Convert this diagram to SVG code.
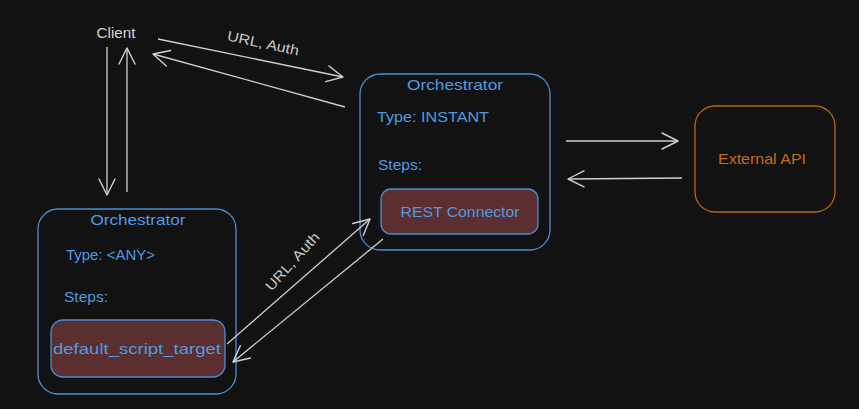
<svg xmlns="http://www.w3.org/2000/svg" width="859" height="409" viewBox="0 0 859 409">
<defs>
<marker id="ah" viewBox="0 0 20 20" refX="18" refY="10" markerWidth="20" markerHeight="20" markerUnits="userSpaceOnUse" orient="auto">
<path d="M2,2 L18,10 L2,18" fill="none" stroke="#d0d0d0" stroke-width="1.4" stroke-linecap="round" stroke-linejoin="round"/>
</marker>
<style>
.bg{fill:#121212}
.box{fill:none;stroke:#4a8fd0;stroke-width:1.3}
.step{fill:#5b2e2f;stroke:#4a8fd0;stroke-width:1.3}
.ext{fill:none;stroke:#b8660c;stroke-width:1.3}
.t{font-family:"Liberation Sans",Arial,sans-serif;font-size:15px;fill:#4f9be0}
.c{text-anchor:middle}
.w{fill:#d4d4d4}
.o{fill:#c46c10}
.ar{fill:none;stroke:#cfcfcf;stroke-width:1.3;marker-end:url(#ah)}
.al{font-family:"Liberation Sans",Arial,sans-serif;font-size:14px;fill:#c8c8c8;text-anchor:middle}
</style>
</defs>
<rect class="bg" x="0" y="0" width="859" height="409"/>

<g id="client">
<text class="t w c" x="116" y="38" textLength="39" lengthAdjust="spacingAndGlyphs">Client</text>
</g>

<g id="orch-instant">
<rect class="box" x="360" y="74" width="190" height="176" rx="20"/>
<text class="t c" x="455" y="90" textLength="96" lengthAdjust="spacingAndGlyphs">Orchestrator</text>
<text class="t" x="377" y="122" textLength="112" lengthAdjust="spacingAndGlyphs">Type: INSTANT</text>
<text class="t" x="378" y="170" textLength="44" lengthAdjust="spacingAndGlyphs">Steps:</text>
<g id="rest-connector">
<rect class="step" x="381" y="189" width="157" height="45" rx="10"/>
<text class="t c" x="460" y="217" textLength="119" lengthAdjust="spacingAndGlyphs">REST Connector</text>
</g>
</g>

<g id="external-api">
<rect class="ext" x="695" y="106" width="140" height="106" rx="20"/>
<text class="t o c" x="762" y="164" textLength="88" lengthAdjust="spacingAndGlyphs">External API</text>
</g>

<g id="orch-any">
<rect class="box" x="38" y="209" width="198" height="185" rx="20"/>
<text class="t c" x="138" y="225" textLength="95" lengthAdjust="spacingAndGlyphs">Orchestrator</text>
<text class="t" x="66" y="260" textLength="89" lengthAdjust="spacingAndGlyphs">Type: &lt;ANY&gt;</text>
<text class="t" x="64" y="302" textLength="44" lengthAdjust="spacingAndGlyphs">Steps:</text>
<g id="default-script-target">
<rect class="step" x="51" y="320" width="174" height="57" rx="12"/>
<text class="t c" x="137" y="354" textLength="168" lengthAdjust="spacingAndGlyphs">default_script_target</text>
</g>
</g>

<g id="connectors">
<line class="ar" x1="107" y1="47" x2="107" y2="195"/>
<line class="ar" x1="127" y1="192" x2="127" y2="48"/>
<line class="ar" x1="158" y1="39" x2="343" y2="77"/>
<line class="ar" x1="345" y1="107" x2="153" y2="54"/>
<line class="ar" x1="566" y1="141" x2="678" y2="141"/>
<line class="ar" x1="682" y1="178" x2="568" y2="179"/>
<line class="ar" x1="227" y1="344" x2="370" y2="219"/>
<line class="ar" x1="383" y1="239" x2="233" y2="362"/>
<text class="al" x="263" y="48" transform="rotate(12 263 44)" textLength="73" lengthAdjust="spacingAndGlyphs">URL, Auth</text>
<text class="al" x="293" y="266" transform="rotate(-48 293 262)" textLength="73" lengthAdjust="spacingAndGlyphs">URL, Auth</text>
</g>
</svg>
